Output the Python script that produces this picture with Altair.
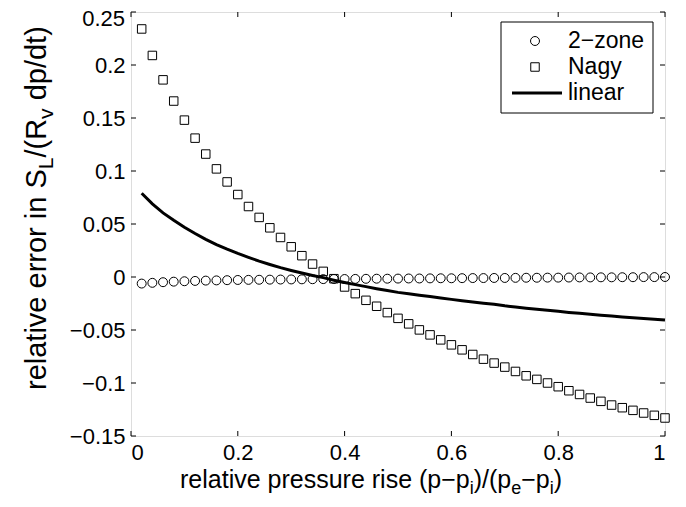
import altair as alt
import pandas as pd

FONT = "Liberation Sans"

# ---- data ----
X = [0.02, 0.04, 0.06, 0.08, 0.10, 0.12, 0.14, 0.16, 0.18, 0.20,
     0.22, 0.24, 0.26, 0.28, 0.30, 0.32, 0.34, 0.36, 0.38, 0.40,
     0.42, 0.44, 0.46, 0.48, 0.50, 0.52, 0.54, 0.56, 0.58, 0.60,
     0.62, 0.64, 0.66, 0.68, 0.70, 0.72, 0.74, 0.76, 0.78, 0.80,
     0.82, 0.84, 0.86, 0.88, 0.90, 0.92, 0.94, 0.96, 0.98, 1.00]

TWO_ZONE = [-0.0062, -0.0055, -0.0049, -0.0044, -0.0040, -0.0037, -0.0034, -0.0032, -0.0030, -0.0028,
            -0.0027, -0.0026, -0.0025, -0.0024, -0.0023, -0.0022, -0.0021, -0.0020, -0.0019, -0.0019,
            -0.0018, -0.0017, -0.0016, -0.0016, -0.0015, -0.0014, -0.0014, -0.0013, -0.0012, -0.0012,
            -0.0011, -0.0010, -0.0010, -0.0009, -0.0009, -0.0008, -0.0007, -0.0007, -0.0006, -0.0006,
            -0.0005, -0.0004, -0.0004, -0.0003, -0.0003, -0.0002, -0.0002, -0.0001, -0.0001, 0.0000]

NAGY = [0.234, 0.209, 0.186, 0.166, 0.148, 0.131, 0.116, 0.102, 0.0897, 0.0778,
        0.0665, 0.0562, 0.0464, 0.0373, 0.0285, 0.0201, 0.0122, 0.0053, -0.0016, -0.0094,
        -0.0157, -0.0220, -0.0276, -0.0336, -0.0390, -0.0442, -0.0499, -0.0546, -0.0593, -0.0640,
        -0.0687, -0.0731, -0.0775, -0.0812, -0.0850, -0.0891, -0.0932, -0.0966, -0.1000, -0.1035,
        -0.1073, -0.1108, -0.1142, -0.1173, -0.1208, -0.1233, -0.1258, -0.1283, -0.1305, -0.1330]

LINEAR = [0.0790, 0.0690, 0.0605, 0.0535, 0.0470, 0.0410, 0.0355, 0.0305, 0.0262, 0.0222,
          0.0185, 0.0150, 0.0118, 0.0088, 0.0062, 0.0038, 0.0014, -0.0006, -0.0030, -0.0052,
          -0.0072, -0.0091, -0.0110, -0.0128, -0.0145, -0.0158, -0.0172, -0.0185, -0.0198, -0.0211,
          -0.0223, -0.0235, -0.0247, -0.0258, -0.0272, -0.0283, -0.0294, -0.0304, -0.0314, -0.0324,
          -0.0334, -0.0343, -0.0352, -0.0361, -0.0369, -0.0377, -0.0385, -0.0392, -0.0399, -0.0406]

X_TICKS = [0, 0.2, 0.4, 0.6, 0.8, 1]
Y_TICKS = [-0.15, -0.1, -0.05, 0, 0.05, 0.1, 0.15, 0.2, 0.25]
Y_TOP_LABEL = "0.25"

LEGEND_LABELS = ["2\u2212zone", "Nagy", "linear"]
X_TITLE = [("relative pressure rise (p\u2212p", False), ("i", True), (")/(p", False),
           ("e", True), ("\u2212p", False), ("i", True), (")", False)]
Y_TITLE = [("relative error in S", False), ("L", True), ("/(R", False),
           ("v", True), (" dp/dt)", False)]

# ---- layout ----
W, H = 534, 424
PAD = {"left": 123, "top": 4, "right": 13, "bottom": 63}

ARIAL = {" ": 278, "(": 333, ")": 333, "/": 278, ".": 278, "\u2212": 584, "-": 333,
         "a": 556, "b": 556, "c": 500, "d": 556, "e": 556, "f": 278, "g": 556, "h": 556,
         "i": 222, "j": 222, "k": 500, "l": 222, "m": 833, "n": 556, "o": 556, "p": 556,
         "q": 556, "r": 333, "s": 500, "t": 278, "u": 556, "v": 500, "w": 722, "x": 500,
         "y": 500, "z": 500, "L": 556, "N": 722, "R": 722, "S": 667}


def text_width(s, size):
    return sum(ARIAL.get(c, 556) for c in s) * size / 1000.0


def compose(pieces, x, y, size, subsize, subdy, angle=0):
    layers = []
    off = 0.0
    for txt, sub in pieces:
        s = subsize if sub else size
        stripped = txt.lstrip(" ")
        off += text_width(txt[: len(txt) - len(stripped)], s)
        layers.append(
            alt.Chart(pd.DataFrame({"t": [stripped]}))
            .mark_text(align="left", baseline="alphabetic", font=FONT, fontSize=s,
                       angle=angle, dx=off, dy=subdy if sub else 0, color="black")
            .encode(x=alt.value(x), y=alt.value(y), text="t:N")
        )
        off += text_width(stripped, s)
    return layers


xs = alt.Scale(domain=[0, 1], nice=False, zero=False)
ys = alt.Scale(domain=[-0.15, 0.25], nice=False, zero=False)

df = pd.DataFrame({"x": X, "zone2": TWO_ZONE, "nagy": NAGY, "linear": LINEAR})

x_axis = alt.Axis(values=X_TICKS, format="~g", title=None, grid=False, domain=False,
                  ticks=False, tickSize=0, labelPadding=6, labelFont=FONT,
                  labelFontSize=22, labelColor="black")
# the top label (0.25) would be clipped by the page edge; it is drawn below as text
y_axis = alt.Axis(values=Y_TICKS[:-1], format="~g", title=None, grid=False, domain=False,
                  ticks=False, tickSize=0, labelPadding=6, labelFont=FONT,
                  labelFontSize=22, labelColor="black")


def X_(field):
    return alt.X(field, scale=xs, axis=x_axis, title=None)


def Y_(field):
    return alt.Y(field, scale=ys, axis=y_axis, title=None)


linear = alt.Chart(df).mark_line(color="black", strokeWidth=3).encode(
    x=X_("x:Q"), y=Y_("linear:Q"))
circles = alt.Chart(df).mark_point(shape="circle", size=80, filled=False, color="black",
                                   strokeWidth=1, opacity=1).encode(
    x=X_("x:Q"), y=Y_("zone2:Q"))
squares = alt.Chart(df).mark_point(shape="square", size=72, filled=False, color="black",
                                   strokeWidth=1, opacity=1).encode(
    x=X_("x:Q"), y=Y_("nagy:Q"))

xt = pd.DataFrame({"v": X_TICKS})
yt = pd.DataFrame({"v": Y_TICKS})
TL = 5
tick_layers = [
    alt.Chart(xt).mark_rule(color="black", strokeWidth=1).encode(
        x=X_("v:Q"), y=alt.value(H), y2=alt.value(H - TL)),
    alt.Chart(xt).mark_rule(color="black", strokeWidth=1).encode(
        x=X_("v:Q"), y=alt.value(0), y2=alt.value(TL)),
    alt.Chart(yt).mark_rule(color="black", strokeWidth=1).encode(
        y=Y_("v:Q"), x=alt.value(0), x2=alt.value(TL)),
    alt.Chart(yt).mark_rule(color="black", strokeWidth=1).encode(
        y=Y_("v:Q"), x=alt.value(W - TL), x2=alt.value(W)),
]

top_label = alt.Chart(pd.DataFrame({"t": [Y_TOP_LABEL]})).mark_text(
    align="right", baseline="alphabetic", font=FONT, fontSize=22, color="black"
).encode(x=alt.value(-6), y=alt.value(14), text="t:N")

# ---- legend ----
one = pd.DataFrame({"a": [0]})
LX0, LX1, LY0, LY1 = 370, 522, 10, 101
ROWS = [29, 55, 81]
SYM_X = 404
TEXT_X = 437
legend = [
    alt.Chart(one).mark_rect(fill="white", stroke="black", strokeWidth=1).encode(
        x=alt.value(LX0), x2=alt.value(LX1), y=alt.value(LY0), y2=alt.value(LY1)),
    alt.Chart(one).mark_point(shape="circle", size=80, filled=False, color="black",
                              strokeWidth=1, opacity=1).encode(
        x=alt.value(SYM_X), y=alt.value(ROWS[0])),
    alt.Chart(one).mark_point(shape="square", size=72, filled=False, color="black",
                              strokeWidth=1, opacity=1).encode(
        x=alt.value(SYM_X), y=alt.value(ROWS[1])),
    alt.Chart(one).mark_rule(color="black", strokeWidth=3).encode(
        x=alt.value(381), x2=alt.value(431), y=alt.value(ROWS[2])),
]
for lab, ry in zip(LEGEND_LABELS, ROWS):
    legend.append(
        alt.Chart(pd.DataFrame({"t": [lab]}))
        .mark_text(align="left", baseline="middle", font=FONT, fontSize=23, color="black")
        .encode(x=alt.value(TEXT_X), y=alt.value(ry), text="t:N")
    )

x_title = compose(X_TITLE, 49, 476, 25, 18, 6)
y_title = compose(Y_TITLE, -85, 378, 29, 21, 7, angle=270)

chart = alt.layer(
    linear, circles, squares, *tick_layers, top_label, *legend, *x_title, *y_title
).properties(
    width=W, height=H, padding=PAD,
    autosize=alt.AutoSizeParams(type="none"),
).configure_view(stroke="black", strokeWidth=1).configure(background="white")

chart.save("out.html", embed_options={"renderer": "svg", "actions": False})
